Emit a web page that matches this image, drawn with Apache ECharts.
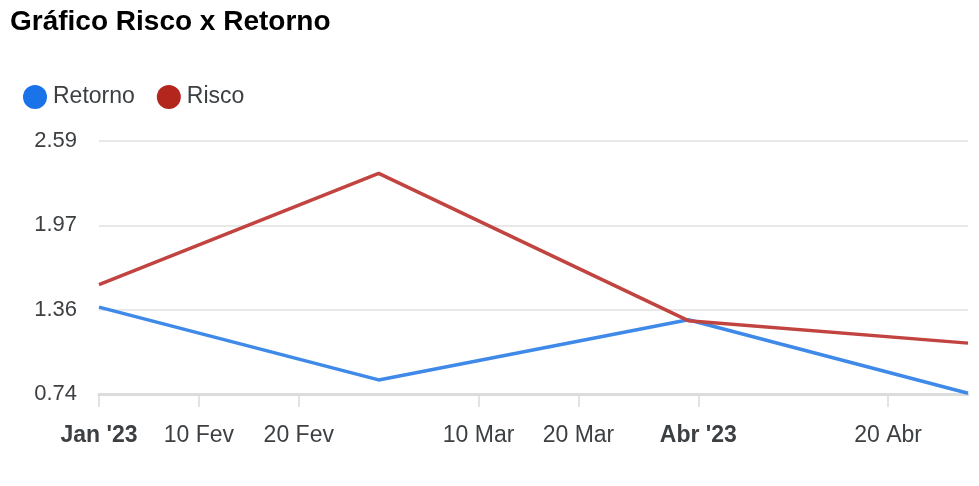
<!DOCTYPE html>
<html>
<head>
<meta charset="utf-8">
<script src="https://cdn.jsdelivr.net/npm/echarts@6/dist/echarts.min.js"></script>
<style>html,body{margin:0;padding:0;background:#fff;}#c{width:979px;height:486px;}</style>
</head>
<body>
<div id="c"></div>
<script>
var dates = ['2023-01-31', '2023-02-28', '2023-03-31', '2023-04-28'];
var retorno = [1.375, 0.843, 1.283, 0.745];
var risco = [1.540, 2.353, 1.276, 1.112];
var tickDates = ['2023-01-31', '2023-02-10', '2023-02-20', '2023-03-10', '2023-03-20', '2023-04-01', '2023-04-20'];
var tickLabels = ["Jan '23", '10 Fev', '20 Fev', '10 Mar', '20 Mar', "Abr '23", '20 Abr'];
var tickBold = [true, false, false, false, false, true, false];
var yMin = 0.74, yMax = 2.59;

function ts(s) { return new Date(s + 'T00:00:00').getTime(); }
var tickTs = tickDates.map(ts);

var chart = echarts.init(document.getElementById('c'));
chart.setOption({
  animation: false,
  textStyle: { fontFamily: 'Liberation Sans, Arial, sans-serif' },
  title: {
    text: 'Gráfico Risco x Retorno',
    left: 5, top: 3,
    textStyle: { fontSize: 28, fontWeight: 'bold', color: '#000', fontFamily: 'Liberation Sans, Arial, sans-serif' }
  },
  legend: {
    left: 18, top: 80,
    icon: 'circle',
    itemWidth: 24, itemHeight: 24, itemGap: 22,
    textStyle: { fontSize: 23, color: '#3c4043', padding: [0, 0, 0, 1] },
    data: ['Retorno', 'Risco']
  },
  grid: { left: 99, right: 11, top: 141, bottom: 92, containLabel: false },
  xAxis: {
    type: 'value',
    min: ts(dates[0]), max: ts(dates[dates.length - 1]),
    axisLine: { show: true, lineStyle: { color: '#dcdcdc', width: 3 } },
    axisTick: { show: true, customValues: tickTs, length: 13, lineStyle: { color: '#dadada', width: 1.5 } },
    splitLine: { show: false },
    axisLabel: {
      customValues: tickTs,
      margin: 30,
      fontSize: 23,
      color: '#3c4043',
      hideOverlap: false,
      showMinLabel: true, showMaxLabel: true,
      formatter: function (v) {
        var i = tickTs.indexOf(v);
        if (i < 0) return '';
        return tickBold[i] ? '{b|' + tickLabels[i] + '}' : tickLabels[i];
      },
      rich: { b: { fontWeight: 'bold', fontSize: 23, color: '#3c4043' } }
    }
  },
  yAxis: {
    type: 'value',
    min: yMin, max: yMax,
    interval: (yMax - yMin) / 3,
    axisLine: { show: false },
    axisTick: { show: false },
    splitLine: { lineStyle: { color: '#e0e0e0', width: 1.5 } },
    axisLabel: {
      margin: 22, fontSize: 22, color: '#3c4043',
      formatter: function (v) { return v.toFixed(2); }
    }
  },
  series: [
    {
      name: 'Retorno', type: 'line', showSymbol: false, symbol: 'circle',
      itemStyle: { color: '#1a73e8' },
      lineStyle: { color: '#3f8ae9', width: 3.5 },
      data: dates.map(function (d, i) { return [ts(d), retorno[i]]; })
    },
    {
      name: 'Risco', type: 'line', showSymbol: false, symbol: 'circle',
      itemStyle: { color: '#b3261e' },
      lineStyle: { color: '#c24441', width: 3.5 },
      data: dates.map(function (d, i) { return [ts(d), risco[i]]; })
    }
  ]
});
</script>
</body>
</html>
